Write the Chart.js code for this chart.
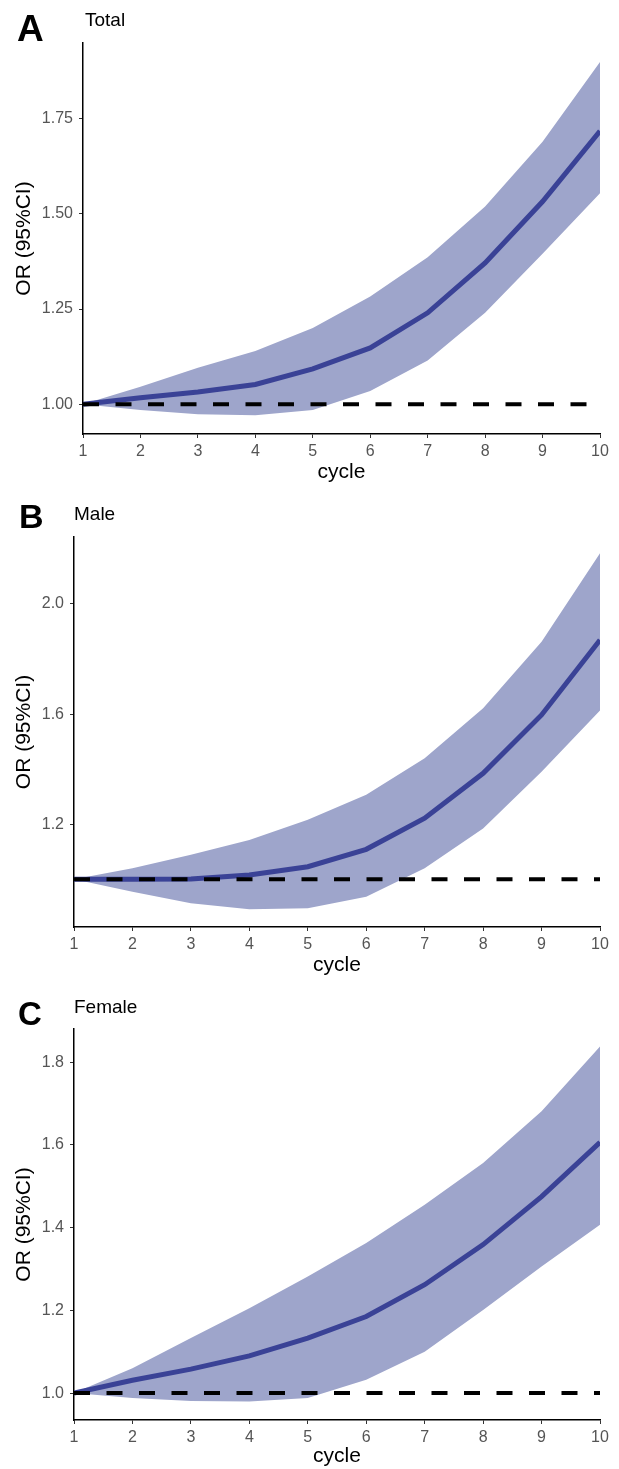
<!DOCTYPE html>
<html>
<head>
<meta charset="utf-8">
<title>OR by cycle</title>
<script src="https://cdn.jsdelivr.net/npm/chart.js@4.4.0/dist/chart.umd.min.js"></script>
<style>
  body { margin: 0; background: #fff; }
  #page { position: relative; width: 619px; height: 1469px; font-family: "Liberation Sans", Arial, sans-serif; }
  .panel { position: absolute; left: 0; width: 619px; }
  .tag { position: absolute; font-weight: bold; line-height: 1; color: #000; }
  .sub { position: absolute; line-height: 1; font-size: 19px; color: #000; }
</style>
</head>
<body>
<div id="page">
  <div class="panel" style="top:0;height:490px"><canvas id="chartA"></canvas></div>
  <div class="panel" style="top:490px;height:490px"><canvas id="chartB"></canvas></div>
  <div class="panel" style="top:980px;height:489px"><canvas id="chartC"></canvas></div>

  <div class="tag" style="left:17px;top:10px;font-size:37px">A</div>
  <div class="sub" style="left:85px;top:10px">Total</div>
  <div class="tag" style="left:19px;top:499px;font-size:34px">B</div>
  <div class="sub" style="left:74px;top:504px">Male</div>
  <div class="tag" style="left:18px;top:997px;font-size:33px">C</div>
  <div class="sub" style="left:74px;top:997px">Female</div>
</div>

<script>
// x axis: treatment cycle
const cycles = [1, 2, 3, 4, 5, 6, 7, 8, 9, 10];

// Total
const totalOR    = [1.00, 1.017, 1.032, 1.052, 1.093, 1.148, 1.240, 1.371, 1.532, 1.717];
const totalUpper = [1.00, 1.046, 1.096, 1.140, 1.200, 1.283, 1.386, 1.519, 1.689, 1.898];
const totalLower = [1.00, 0.985, 0.974, 0.971, 0.985, 1.035, 1.115, 1.240, 1.395, 1.554];
const totalTicks = [1.00, 1.25, 1.50, 1.75];
const totalRange = [0.922, 1.948];

// Male
const maleOR    = [1.00, 1.000, 1.001, 1.016, 1.046, 1.109, 1.222, 1.385, 1.597, 1.869];
const maleUpper = [1.00, 1.040, 1.089, 1.143, 1.216, 1.307, 1.440, 1.621, 1.863, 2.184];
const maleLower = [1.00, 0.955, 0.913, 0.891, 0.895, 0.937, 1.040, 1.185, 1.391, 1.613];
const maleTicks = [1.2, 1.6, 2.0];
const maleRange = [0.827, 2.243];

// Female
const femaleOR    = [1.00, 1.031, 1.058, 1.090, 1.133, 1.185, 1.262, 1.359, 1.475, 1.606];
const femaleUpper = [1.00, 1.060, 1.133, 1.205, 1.282, 1.363, 1.455, 1.556, 1.681, 1.838];
const femaleLower = [1.00, 0.988, 0.981, 0.980, 0.988, 1.032, 1.100, 1.201, 1.306, 1.407];
const femaleTicks = [1.0, 1.2, 1.4, 1.6, 1.8];
const femaleRange = [0.935, 1.88];

// reference line OR = 1
const refOR = [1, 1];

Chart.defaults.font.family = '"Liberation Sans", Arial, sans-serif';

function toPoints(xs, ys) {
    return ys.map((y, i) => ({ x: xs[i], y: y }));
}

function drawPanel(id, or, upper, lower, yTicks, yRange, decimals, box) {
    let ctx = document.getElementById(id).getContext("2d");
    let lineColor = "rgb(58, 66, 150)";
    let bandColor = "rgb(158, 165, 203)";

    return new Chart(ctx, {
        type: "line",
        data: {
            datasets: [
                {
                    // dashed OR = 1 line, drawn on top
                    data: toPoints([cycles[0], cycles[cycles.length - 1]], refOR),
                    borderColor: "#000",
                    borderWidth: 4,
                    borderDash: [16, 16.5],
                    borderCapStyle: "butt",
                    pointRadius: 0,
                    fill: false
                },
                {
                    data: toPoints(cycles, or),
                    borderColor: lineColor,
                    borderWidth: 5,
                    pointRadius: 0,
                    tension: 0,
                    fill: false
                },
                {
                    data: toPoints(cycles, upper),
                    borderWidth: 0,
                    borderColor: bandColor,
                    backgroundColor: bandColor,
                    pointRadius: 0,
                    tension: 0,
                    fill: "+1"
                },
                {
                    data: toPoints(cycles, lower),
                    borderWidth: 0,
                    borderColor: bandColor,
                    pointRadius: 0,
                    tension: 0,
                    fill: false
                }
            ]
        },
        options: {
            responsive: true,
            maintainAspectRatio: false,
            animation: false,
            devicePixelRatio: 1,
            layout: {
                padding: { top: box.top, right: 19, bottom: 0, left: 0 }
            },
            plugins: {
                legend: { display: false },
                tooltip: { enabled: false }
            },
            scales: {
                x: {
                    type: "linear",
                    min: 1,
                    max: 10,
                    border: { display: true, color: "#000", width: 1.5 },
                    grid: { drawOnChartArea: false, drawTicks: true, tickLength: 4, color: "#333" },
                    ticks: {
                        stepSize: 1,
                        padding: 4,
                        color: "#555",
                        font: { size: 16 },
                        maxRotation: 0
                    },
                    title: {
                        display: true,
                        text: "cycle",
                        color: "#000",
                        font: { size: 21 },
                        padding: { top: 0, bottom: box.titlePad }
                    },
                    afterFit: function (scale) {
                        scale.height = box.xHeight;
                    }
                },
                y: {
                    type: "linear",
                    min: yRange[0],
                    max: yRange[1],
                    border: { display: true, color: "#000", width: 1.5 },
                    grid: { drawOnChartArea: false, drawTicks: true, tickLength: 4, color: "#333" },
                    ticks: {
                        padding: 6,
                        color: "#555",
                        font: { size: 16 },
                        callback: function (value) {
                            return Number(value).toFixed(decimals);
                        }
                    },
                    afterBuildTicks: function (scale) {
                        scale.ticks = yTicks.map(v => ({ value: v }));
                    },
                    title: {
                        display: true,
                        text: "OR (95%CI)",
                        color: "#000",
                        font: { size: 21 },
                        padding: { top: 12, bottom: 0 }
                    },
                    afterFit: function (scale) {
                        scale.width = box.left;
                    }
                }
            }
        }
    });
}

drawPanel("chartA", totalOR, totalUpper, totalLower, totalTicks, totalRange, 2,
    { top: 43, left: 83, xHeight: 56, titlePad: 5 });
drawPanel("chartB", maleOR, maleUpper, maleLower, maleTicks, maleRange, 1,
    { top: 47, left: 74, xHeight: 53, titlePad: 2 });
drawPanel("chartC", femaleOR, femaleUpper, femaleLower, femaleTicks, femaleRange, 1,
    { top: 49, left: 74, xHeight: 49, titlePad: 0 });
</script>
</body>
</html>
